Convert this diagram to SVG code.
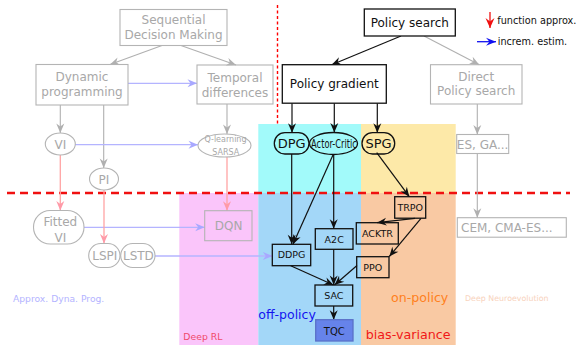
<svg xmlns="http://www.w3.org/2000/svg" width="578" height="345" viewBox="0 0 578 345">
  <style>
    text { font-family: "DejaVu Sans", "Liberation Sans", sans-serif; text-anchor: middle; }
    .g rect, .g ellipse { fill: none; stroke: #b4b4b4; stroke-width: 1.1; }
    .g text { fill: #a8a8a8; font-size: 12px; }
    .g text.tiny { font-size: 8px; }
    .k rect, .k ellipse { fill: none; stroke: #111; stroke-width: 1.3; }
    .k text { fill: #111; }
    .big { font-size: 12px; }
    .mid { font-size: 13px; }
    .sm { font-size: 9.5px; }
    .e-gray { stroke: #b0b0b0; stroke-width: 1.1; fill: none; marker-end: url(#ah-gray); }
    .e-blue { stroke: #b4b4ff; stroke-width: 1.3; fill: none; marker-end: url(#ah-blue); }
    .e-pink { stroke: #ffa4a4; stroke-width: 1.3; fill: none; marker-end: url(#ah-pink); }
    .e-black { stroke: #111; stroke-width: 1.2; fill: none; marker-end: url(#ah-black); }
    .lbl { text-anchor: start; }
  </style>
  <defs>
    <marker id="ah-black" viewBox="-10 -5 10 10" refX="0" refY="0" markerWidth="10" markerHeight="10" markerUnits="userSpaceOnUse" orient="auto">
      <path d="M0,0 L-9.5,-4 L-6.5,0 L-9.5,4 Z" fill="#111"/>
    </marker>
    <marker id="ah-gray" viewBox="-10 -5 10 10" refX="0" refY="0" markerWidth="10" markerHeight="10" markerUnits="userSpaceOnUse" orient="auto">
      <path d="M0,0 L-9.5,-4 L-6.5,0 L-9.5,4 Z" fill="#b0b0b0"/>
    </marker>
    <marker id="ah-blue" viewBox="-10 -5 10 10" refX="0" refY="0" markerWidth="10" markerHeight="10" markerUnits="userSpaceOnUse" orient="auto">
      <path d="M0,0 L-9.5,-4 L-6.5,0 L-9.5,4 Z" fill="#a8a8ff"/>
    </marker>
    <marker id="ah-pink" viewBox="-10 -5 10 10" refX="0" refY="0" markerWidth="10" markerHeight="10" markerUnits="userSpaceOnUse" orient="auto">
      <path d="M0,0 L-9.5,-4 L-6.5,0 L-9.5,4 Z" fill="#ff9aa8"/>
    </marker>
    <marker id="ah-red" viewBox="-10 -5 10 10" refX="0" refY="0" markerWidth="10" markerHeight="10" markerUnits="userSpaceOnUse" orient="auto">
      <path d="M0,0 L-10,-4.5 L-6.5,0 L-10,4.5 Z" fill="#f01010"/>
    </marker>
    <marker id="ah-legblue" viewBox="-10 -5 10 10" refX="0" refY="0" markerWidth="10" markerHeight="10" markerUnits="userSpaceOnUse" orient="auto">
      <path d="M0,0 L-10,-4 L-6.5,0 L-10,4 Z" fill="#1010f0"/>
    </marker>
  </defs>

  <rect width="578" height="345" fill="#fff"/>

  <!-- shaded regions -->
  <g id="regions">
    <rect x="258.3" y="124" width="102.7" height="69" fill="#a2fafa"/>
    <rect x="361" y="124" width="94.7" height="69" fill="#fde9a8"/>
    <rect x="179.3" y="193" width="79" height="152" fill="#fac5fa"/>
    <rect x="258.3" y="193" width="102.7" height="152" fill="#a3d7f8"/>
    <rect x="361" y="193" width="94.7" height="152" fill="#f9c9a3"/>
  </g>

  <!-- separators -->
  <line x1="277.5" y1="5" x2="277.5" y2="125" style="stroke:#ff0000;stroke-width:1.4;stroke-dasharray:3 2.5"/>
  <line x1="7" y1="193" x2="570" y2="193" style="stroke:#f01010;stroke-width:2.5;stroke-dasharray:8 5"/>

  <!-- region labels -->
  <g id="labels">
    <text class="lbl" x="13" y="301.5" font-size="9.2" fill="#b4b4ff">Approx. Dyna. Prog.</text>
    <text class="lbl" x="183.3" y="340" font-size="9.3" fill="#f04a6a">Deep RL</text>
    <text class="lbl" x="258.3" y="318.5" font-size="12.5" fill="#1414f0">off-policy</text>
    <text class="lbl" x="391" y="302" font-size="12.6" fill="#ff8020">on-policy</text>
    <text class="lbl" x="365.7" y="338.5" font-size="12.7" fill="#f01818">bias-variance</text>
    <text class="lbl" x="465" y="300.7" font-size="7.9" fill="#f8d2bc">Deep Neuroevolution</text>
  </g>

  <!-- legend -->
  <g id="legend">
    <line x1="490" y1="12" x2="490" y2="28" stroke="#f01010" stroke-width="1.3" marker-end="url(#ah-red)"/>
    <text class="lbl" x="497.3" y="24" font-size="9.7" fill="#111">function approx.</text>
    <line x1="477" y1="41.7" x2="496" y2="41.7" stroke="#1010f0" stroke-width="1.3" marker-end="url(#ah-legblue)"/>
    <text class="lbl" x="497.7" y="45" font-size="9.7" fill="#111">increm. estim.</text>
  </g>

  <!-- connectors -->
  <g id="connectors">
    <line class="e-gray" x1="162" y1="45.5" x2="110" y2="64.5"/>
    <line class="e-gray" x1="181" y1="45.5" x2="236" y2="65"/>
    <line class="e-gray" x1="60.3" y1="105" x2="60.3" y2="133"/>
    <line class="e-gray" x1="103.7" y1="105" x2="103.7" y2="168"/>
    <line class="e-gray" x1="227" y1="104" x2="227" y2="134"/>
    <line class="e-gray" x1="424" y1="36" x2="479.3" y2="64.7"/>
    <line class="e-gray" x1="477.3" y1="104" x2="477.3" y2="134.5"/>
    <line class="e-gray" x1="477.3" y1="153.5" x2="477.3" y2="217.7"/>

    <line class="e-blue" x1="128" y1="83.3" x2="197" y2="83.3"/>
    <line class="e-blue" x1="75" y1="144.7" x2="198" y2="144.7"/>
    <line class="e-blue" x1="84" y1="227.3" x2="204.7" y2="227.3"/>
    <line class="e-blue" x1="155" y1="256" x2="272.3" y2="256"/>

    <line class="e-pink" x1="60.3" y1="155" x2="60.3" y2="210.5"/>
    <line class="e-pink" x1="104" y1="190" x2="104" y2="243.5"/>
    <line class="e-pink" x1="227" y1="157" x2="227" y2="210.7"/>

    <line class="e-black" x1="401" y1="36" x2="331.7" y2="64.7"/>
    <line class="e-black" x1="292" y1="103.2" x2="292" y2="132.7"/>
    <line class="e-black" x1="334.3" y1="103.2" x2="334.3" y2="132.5"/>
    <line class="e-black" x1="377.3" y1="103.2" x2="377.3" y2="132.7"/>
    <line class="e-black" x1="291.7" y1="154" x2="291.7" y2="244.3"/>
    <line class="e-black" x1="333.3" y1="154.3" x2="293" y2="244.3"/>
    <line class="e-black" x1="333.7" y1="154.5" x2="333.7" y2="228.7"/>
    <line class="e-black" x1="376.7" y1="152.7" x2="409.3" y2="196.7"/>
    <line class="e-black" x1="415" y1="218.3" x2="377" y2="222.7"/>
    <line class="e-black" x1="421" y1="218.3" x2="389.3" y2="256.5"/>
    <line class="e-black" x1="290.7" y1="265.7" x2="333.5" y2="285"/>
    <line class="e-black" x1="333.7" y1="249.3" x2="333.7" y2="285"/>
    <line class="e-black" x1="357" y1="265.5" x2="334.5" y2="285"/>
    <line class="e-black" x1="333.7" y1="306" x2="333.7" y2="319.7"/>
  </g>

  <!-- gray nodes -->
  <g id="sdm" class="g">
    <rect x="120" y="9.5" width="107" height="36"/>
    <text x="173.5" y="23.5">Sequential</text>
    <text x="173.5" y="38.5">Decision Making</text>
  </g>
  <g id="dp" class="g">
    <rect x="36" y="64.5" width="92" height="40.5"/>
    <text x="82" y="81">Dynamic</text>
    <text x="82" y="96">programming</text>
  </g>
  <g id="td" class="g">
    <rect x="197" y="65" width="76" height="39"/>
    <text x="235" y="82">Temporal</text>
    <text x="235" y="97">differences</text>
  </g>
  <g id="vi" class="g">
    <ellipse cx="60.3" cy="144" rx="15" ry="11"/>
    <text x="60.3" y="148.5">VI</text>
  </g>
  <g id="qlearning" class="g">
    <ellipse cx="224.5" cy="145.5" rx="26.5" ry="11.5"/>
    <text class="tiny" x="225.5" y="142.3">Q-learning</text>
    <text class="tiny" x="225.7" y="154.6">SARSA</text>
  </g>
  <g id="pi" class="g">
    <ellipse cx="104" cy="179" rx="14.5" ry="11"/>
    <text x="104" y="183.5">PI</text>
  </g>
  <g id="fittedvi" class="g">
    <rect x="33.5" y="210.5" width="50.5" height="33.5" rx="16.7"/>
    <text x="60.3" y="225.5">Fitted</text>
    <text x="60.3" y="242">VI</text>
  </g>
  <g id="lspi" class="g">
    <rect x="88.7" y="243.5" width="31.3" height="24" rx="12"/>
    <text x="104.8" y="260">LSPI</text>
  </g>
  <g id="lstd" class="g">
    <rect x="120.7" y="243.5" width="34.3" height="24" rx="12"/>
    <text x="138.4" y="260">LSTD</text>
  </g>
  <g id="dqn" class="g">
    <rect x="204.7" y="210.7" width="47.3" height="30"/>
    <text x="228.7" y="230">DQN</text>
  </g>
  <g id="directps" class="g">
    <rect x="430.5" y="64.7" width="91.5" height="39.3"/>
    <text x="476.2" y="80.5">Direct</text>
    <text x="476.2" y="95">Policy search</text>
  </g>
  <g id="esga" class="g">
    <rect x="456.7" y="134.5" width="52" height="19"/>
    <text x="482.6" y="148.5">ES, GA...</text>
  </g>
  <g id="cem" class="g">
    <rect x="457.3" y="217.7" width="109" height="19.5"/>
    <text x="506.8" y="231.5">CEM, CMA-ES...</text>
  </g>

  <!-- policy-based nodes -->
  <g id="policysearch" class="k">
    <rect x="364.3" y="9" width="91" height="27" style="fill:#fff"/>
    <text class="big" x="409.8" y="26.8">Policy search</text>
  </g>
  <g id="policygradient" class="k">
    <rect x="282.3" y="64.7" width="104" height="38.5" style="fill:#fff"/>
    <text class="big" x="334.3" y="87.5">Policy gradient</text>
  </g>
  <g id="dpg" class="k">
    <rect x="274.3" y="132.7" width="34.7" height="21.3" rx="10.6"/>
    <text class="mid" x="291.7" y="148">DPG</text>
  </g>
  <g id="actorcritic" class="k">
    <ellipse cx="333.5" cy="143.5" rx="24" ry="11"/>
    <text class="big" transform="translate(334,147.8) scale(0.69,1)">Actor-Critic</text>
  </g>
  <g id="spg" class="k">
    <rect x="362" y="132.7" width="32.7" height="21.3" rx="10.6"/>
    <text class="mid" x="378.5" y="148">SPG</text>
  </g>
  <g id="trpo" class="k">
    <rect x="394.7" y="196.7" width="31" height="21.5"/>
    <text class="sm" x="410.2" y="210.8">TRPO</text>
  </g>
  <g id="acktr" class="k">
    <rect x="356.3" y="222.7" width="42" height="21.3"/>
    <text class="sm" x="377.4" y="236.7">ACKTR</text>
  </g>
  <g id="a2c" class="k">
    <rect x="315.3" y="228.7" width="37.7" height="20.6"/>
    <text class="sm" x="334.2" y="242.5">A2C</text>
  </g>
  <g id="ddpg" class="k">
    <rect x="272.3" y="244.3" width="38.4" height="21.4"/>
    <text class="sm" x="291.5" y="258.4">DDPG</text>
  </g>
  <g id="ppo" class="k">
    <rect x="356.7" y="256.7" width="32.3" height="21"/>
    <text class="sm" x="372.8" y="270.6">PPO</text>
  </g>
  <g id="sac" class="k">
    <rect x="315" y="285" width="37.7" height="21"/>
    <text class="sm" x="333.9" y="299">SAC</text>
  </g>
  <g id="tqc">
    <rect x="315.7" y="319.7" width="37.3" height="21.3" fill="#6683ea" stroke="#5a70c8" stroke-width="1.3"/>
    <text x="334.3" y="334.5" font-size="10" fill="#111">TQC</text>
  </g>
</svg>
